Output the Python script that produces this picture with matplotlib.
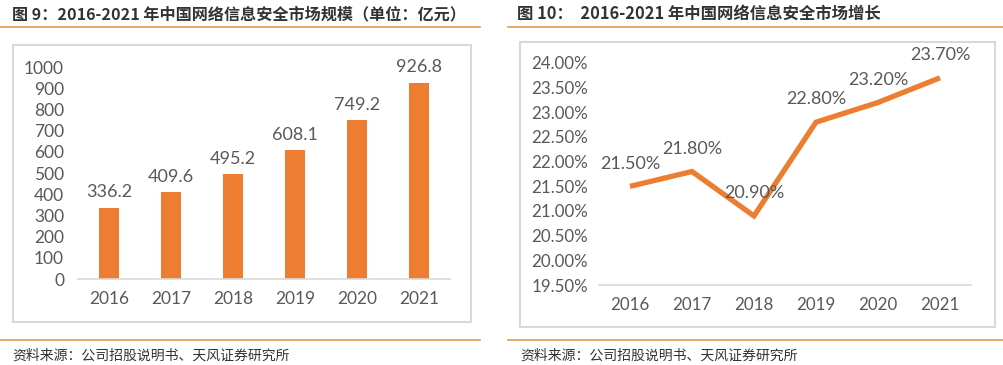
import matplotlib
matplotlib.use("Agg")
import matplotlib.pyplot as plt
from matplotlib.patches import Rectangle
from matplotlib.lines import Line2D
from matplotlib.ticker import FixedLocator

plt.rcParams['font.family'] = ['Noto Sans CJK SC', 'DejaVu Sans']

years = ["2016", "2017", "2018", "2019", "2020", "2021"]
market_size = [336.2, 409.6, 495.2, 608.1, 749.2, 926.8]
growth = [21.50, 21.80, 20.90, 22.80, 23.20, 23.70]
size_ticks = [0, 100, 200, 300, 400, 500, 600, 700, 800, 900, 1000]
growth_ticks = [19.5, 20.0, 20.5, 21.0, 21.5, 22.0, 22.5, 23.0, 23.5, 24.0]

title_left = "图 9：2016-2021 年中国网络信息安全市场规模（单位：亿元）"
title_right = "图 10：  2016-2021 年中国网络信息安全市场增长"
source = "资料来源：公司招股说明书、天风证券研究所"

W, H = 1004, 365
fig = plt.figure(figsize=(W / 100, H / 100), dpi=100)
ORANGE = "#ED7D31"
GRAY = "#595959"
RULE = "#E39A4C"
NUMFONT = ['Lato', 'DejaVu Sans']

def fx(px):
    return px / W

def fy(py):
    return 1 - py / H

# titles
fig.text(fx(12), fy(14), title_left, fontsize=11.6, fontweight='bold', color="#333333", va='center', ha='left')
fig.text(fx(517), fy(14), title_right, fontsize=11.8, fontweight='bold', color="#333333", va='center', ha='left')
# rules
for x0, x1 in [(0, 480), (508, 1004)]:
    fig.add_artist(Line2D([fx(x0), fx(x1)], [fy(27), fy(27)], color=RULE, lw=1.2))
    fig.add_artist(Line2D([fx(x0), fx(x1)], [fy(340), fy(340)], color=RULE, lw=1.2))
fig.text(fx(12), fy(356), source, fontsize=10, color="#333333", va='center', ha='left')
fig.text(fx(520), fy(356), source, fontsize=10, color="#333333", va='center', ha='left')

# frames
fig.add_artist(Rectangle((fx(13), fy(322)), fx(471 - 13), (322 - 45) / H, fill=False, edgecolor="#D9D9D9", lw=1.5))
fig.add_artist(Rectangle((fx(520), fy(327)), fx(995 - 520), (327 - 42) / H, fill=False, edgecolor="#D9D9D9", lw=1.5))

# left bar chart
ax1 = fig.add_axes([fx(78), (H - 279) / H, 372 / W, 212 / H])
x = list(range(len(years)))
ax1.bar(x, market_size, width=0.33, color=ORANGE)
ax1.set_xlim(-0.5, 5.5)
ax1.set_ylim(0, 1000)
ax1.yaxis.set_major_locator(FixedLocator(size_ticks))
ax1.set_yticklabels([str(t) for t in size_ticks], family=NUMFONT)
ax1.set_xticks(x)
ax1.set_xticklabels(years, family=NUMFONT)
for s in ['top', 'right', 'left']:
    ax1.spines[s].set_visible(False)
ax1.spines['bottom'].set_color("#D9D9D9")
ax1.spines['bottom'].set_linewidth(1.2)
ax1.tick_params(axis='both', length=0, labelsize=12.5, colors=GRAY)
ax1.tick_params(axis='x', pad=9)
ax1.tick_params(axis='y', pad=10)
for xi, v in zip(x, market_size):
    ax1.text(xi, v + 35, f"{v:.1f}", ha='center', va='bottom', fontsize=13, color=GRAY, family=NUMFONT)
ax1.patch.set_alpha(0)

# right line chart
ax2 = fig.add_axes([fx(599), (H - 285) / H, 372 / W, 222 / H])
ax2.plot(x, growth, color=ORANGE, lw=3.8, solid_capstyle='butt', solid_joinstyle='miter')
ax2.set_xlim(-0.5, 5.5)
ax2.set_ylim(19.5, 24.0)
ax2.yaxis.set_major_locator(FixedLocator(growth_ticks))
ax2.set_yticklabels([f"{t:.2f}%" for t in growth_ticks], family=NUMFONT)
ax2.set_xticks(x)
ax2.set_xticklabels(years, family=NUMFONT)
for s in ['top', 'right', 'left']:
    ax2.spines[s].set_visible(False)
ax2.spines['bottom'].set_color("#D9D9D9")
ax2.spines['bottom'].set_linewidth(1.2)
ax2.tick_params(axis='both', length=0, labelsize=12.2, colors=GRAY)
ax2.tick_params(axis='x', pad=9)
ax2.tick_params(axis='y', pad=8)
for xi, v in zip(x, growth):
    ax2.text(xi, v + 0.3, f"{v:.2f}%", ha='center', va='bottom', fontsize=13, color=GRAY, family=NUMFONT)
ax2.patch.set_alpha(0)

fig.savefig("out.png", dpi=100)
